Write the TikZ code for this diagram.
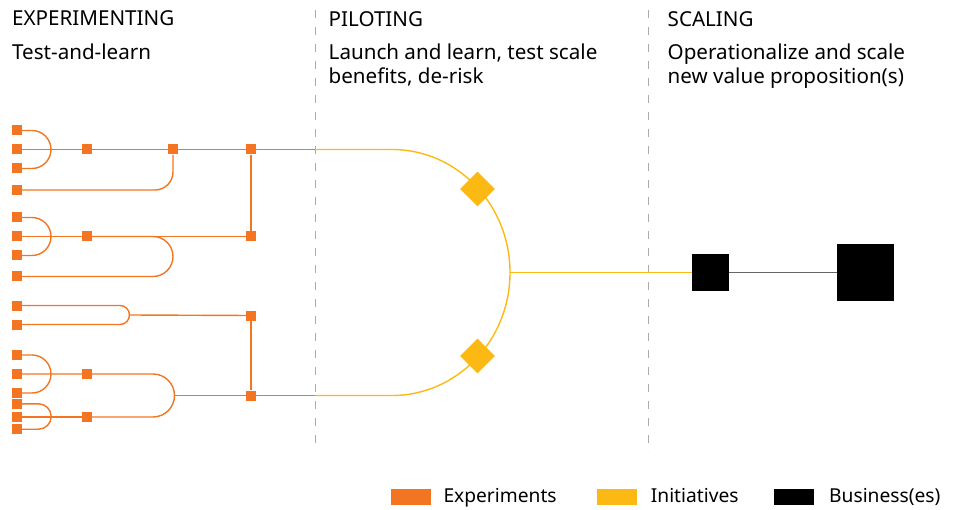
\documentclass[tikz,border=0pt]{standalone}
\usepackage{fontspec}
\setmainfont{Noto Sans}
\definecolor{expcol}{HTML}{F47521}
\definecolor{inicol}{HTML}{FDB913}
\definecolor{divcol}{HTML}{ABABAB}
\definecolor{buslink}{HTML}{666666}
\begin{document}
\begin{tikzpicture}[x=1pt,y=-1pt,
    expbox/.style={fill=expcol, minimum size=10pt, inner sep=0pt},
    exp/.style={draw=expcol, line width=1.4pt},
    ini/.style={draw=inicol, line width=1.4pt},
    inibox/.style={fill=inicol, minimum size=24.5pt, inner sep=0pt, rotate=45},
    busbox/.style={fill=black, inner sep=0pt},
    divider/.style={draw=divcol, line width=1pt, dash pattern=on 8pt off 9pt},
    txt/.style={anchor=base west, inner sep=0pt, font=\fontsize{20.6}{23.4}\selectfont, align=left},
    legtxt/.style={anchor=base west, inner sep=0pt, font=\fontsize{19.2}{23}\selectfont},
    legbox/.style={minimum width=40pt, minimum height=15.7pt, inner sep=0pt}]
\useasboundingbox (0,0) rectangle (957,510);

% phase dividers
\coordinate (v1top) at (315,10);
\coordinate (v1bot) at (315,452);
\coordinate (v2top) at (648,10);
\coordinate (v2bot) at (648,452);
\draw[divider] (v1top) -- (v1bot);
\draw[divider] (v2top) -- (v2bot);

% headings (base = last line)
\node[txt] (h1) at (12,25.7) {EXPERIMENTING};
\node[txt] (d1txt) at (12,59.5) {Test-and-learn};
\node[txt] (h2) at (328.5,26.2) {PILOTING};
\node[txt] (d2txt) at (328.5,83.3) {Launch and learn, test scale\\benefits, de-risk};
\node[txt] (h3) at (667.5,26.2) {SCALING};
\node[txt] (d3txt) at (667.5,83.3) {Operationalize and scale\\new value proposition(s)};

% experiments
\foreach \y [count=\i] in {130.5,149.5,168.5,190,217.5,236.5,255.5,276.5,305.5,324.5,355,374,393,403.8,417,429.2}
    \node[expbox] (a\i) at (17,\y) {};
\node[expbox] (b1) at (87,149.5) {};
\node[expbox] (b2) at (87,236.5) {};
\node[expbox] (b3) at (87,374) {};
\node[expbox] (b4) at (87,417) {};
\node[expbox] (c1) at (173,149.5) {};
\node[expbox] (d1) at (251,149.5) {};
\node[expbox] (d2) at (251,236.5) {};
\node[expbox] (d3) at (251,315.5) {};
\node[expbox] (d4) at (251,395.5) {};
\coordinate (s1) at (315,149.5);
\coordinate (s2) at (315,395.5);

\draw[exp] (a1) -- ++(15,0) arc[start angle=-90,end angle=90,radius=19] -- (a3);
\draw[exp] (a2) -- (b1) -- (c1) -- (d1) -- (s1);
\draw[exp] (a4) -- ++(138,0) arc[start angle=90,end angle=0,radius=18] -- (c1);
\draw[exp] (a5) -- ++(15,0) arc[start angle=-90,end angle=90,radius=19] -- (a7);
\draw[exp] (a6) -- (b2) -- (d2);
\draw[exp] (a8) -- ++(136,0) arc[start angle=90,end angle=-90,radius=20] -- (b2);
\draw[exp] (d1) -- (d2);
\draw[exp] (a9) -- ++(103,0) arc[start angle=-90,end angle=0,radius=9.5] coordinate (j3)
    arc[start angle=0,end angle=90,radius=9.5] -- (a10);
\draw[exp] (j3) -- (d3);
\draw[exp] (a11) -- ++(15,0) arc[start angle=-90,end angle=90,radius=19] -- (a13);
\draw[exp] (a12) -- (b3) -- ++(66,0) arc[start angle=-90,end angle=0,radius=21.5] coordinate (j4)
    arc[start angle=0,end angle=90,radius=21.5] -- (b4);
\draw[exp] (j4) -- (d4);
\draw[exp] (a14) -- ++(21.5,0) arc[start angle=-90,end angle=90,radius=12.7] -- (a16);
\draw[exp] (a15) -- (b4);
\draw[exp] (d3) -- (d4);
\draw[exp] (d4) -- (s2);

% initiatives
\draw[ini] (s1) -- ++(77,0) arc[start angle=-90,end angle=0,x radius=118,y radius=123] coordinate (j5)
    arc[start angle=0,end angle=90,x radius=118,y radius=123] -- (s2);
\node[inibox] (i1) at (477.5,189) {};
\node[inibox] (i2) at (477.5,356) {};

% businesses
\node[busbox, minimum size=37pt] (n1) at (710.5,272.5) {};
\node[busbox, minimum size=57pt] (n2) at (865.5,272.5) {};
\draw[ini] (j5) -- (n1);
\draw[draw=buslink, line width=1.5pt] (n1) -- (n2);

% legend
\node[legbox, fill=expcol] (l1) at (411,497.2) {};
\node[legtxt] (l1txt) at (443.3,502.3) {Experiments};
\node[legbox, fill=inicol] (l2) at (617,497.2) {};
\node[legtxt] (l2txt) at (650.7,502.3) {Initiatives};
\node[legbox, fill=black] (l3) at (794,497.2) {};
\node[legtxt] (l3txt) at (829,502.3) {Business(es)};
\end{tikzpicture}
\end{document}
